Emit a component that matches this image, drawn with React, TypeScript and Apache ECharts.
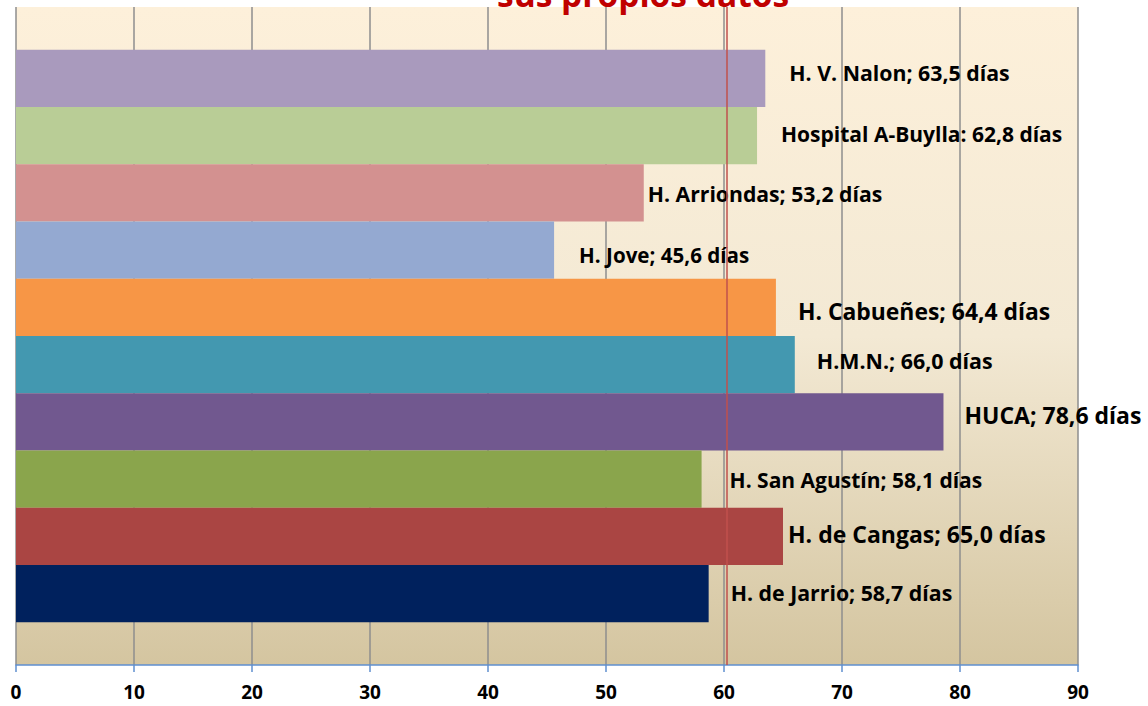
import React, { useEffect, useRef } from "react";
import * as echarts from "echarts";

// Data (top to bottom as drawn)
const hospitals = [
  "H. V. Nalon",
  "Hospital A-Buylla",
  "H. Arriondas",
  "H. Jove",
  "H. Cabueñes",
  "H.M.N.",
  "HUCA",
  "H. San Agustín",
  "H. de Cangas",
  "H. de Jarrio",
];
const days = [63.5, 62.8, 53.2, 45.6, 64.4, 66.0, 78.6, 58.1, 65.0, 58.7];
const separators = [";", ":", ";", ";", ";", ";", ";", ";", ";", ";"];
const referenceLine = 60.2;
const xTicks = [0, 10, 20, 30, 40, 50, 60, 70, 80, 90];
const titleText = "sus propios datos";

// Styles
const barColors = [
  "#a99abd",
  "#b9cd96",
  "#d39190",
  "#94a9d1",
  "#f79646",
  "#4398b0",
  "#71588f",
  "#8aa54c",
  "#aa4543",
  "#00215d",
];
const labelFontSizes = [21.3, 21, 21.2, 20.6, 22.9, 21.4, 23, 21, 23, 21.3];
const labelDistances = [24, 24, 4, 25, 22, 22, 21, 28, 5, 22];
const labelDy = [-6, -2, 1, 5, 4, -4, -7, 1, -2, -1];

const FONT = "'Open Sans', Lato, sans-serif";

export default function App() {
  const ref = useRef<HTMLDivElement>(null);
  useEffect(() => {
    if (!ref.current) return;
    const chart = echarts.init(ref.current, undefined, { renderer: "svg" });
    const series: any[] = hospitals.map((name, i) => ({
      type: "bar",
      name,
      data: [days[i]],
      barGap: "0%",
      barCategoryGap: "13%",
      itemStyle: { color: barColors[i] },
      label: {
        show: true,
        position: "right",
        distance: labelDistances[i],
        offset: [0, labelDy[i]],
        formatter: () =>
          `${name}${separators[i]} ${days[i].toFixed(1).replace(".", ",")} días`,
        color: "#000",
        fontWeight: "bold",
        fontFamily: FONT,
        fontSize: labelFontSizes[i],
      },
      silent: true,
    }));
    series[0].markLine = {
      silent: true,
      symbol: "none",
      label: { show: false },
      lineStyle: { color: "#c0504d", width: 1.5, type: "solid" },
      data: [{ xAxis: referenceLine }],
    };
    chart.setOption({
      animation: false,
      backgroundColor: "#ffffff",
      grid: {
        left: 16,
        right: 70,
        top: 7,
        bottom: 41,
        show: true,
        borderWidth: 0,
        backgroundColor: new echarts.graphic.LinearGradient(0, 0, 0, 1, [
          { offset: 0, color: "#fdf0da" },
          { offset: 0.5, color: "#f3e9d4" },
          { offset: 1, color: "#d4c5a0" },
        ]),
      },
      xAxis: {
        type: "value",
        min: xTicks[0],
        max: xTicks[xTicks.length - 1],
        interval: xTicks[1] - xTicks[0],
        axisLine: { show: true, lineStyle: { color: "#5f8fcf", width: 1.5 } },
        axisTick: { show: true, length: 7, lineStyle: { color: "#5f8fcf", width: 1.5 } },
        splitLine: { show: true, lineStyle: { color: "#8e8e8e", width: 1.5 } },
        axisLabel: {
          color: "#000",
          fontWeight: "bold",
          fontFamily: FONT,
          fontSize: 19,
          margin: 17,
        },
      },
      yAxis: {
        type: "category",
        data: [""],
        axisLine: { show: false },
        axisTick: { show: false },
        axisLabel: { show: false },
        splitLine: { show: false },
      },
      graphic: [
        {
          type: "text",
          left: 497,
          top: -23,
          style: {
            text: titleText,
            fill: "#c00000",
            font: `bold 33.5px ${FONT}`,
          },
          z: 100,
        },
      ],
      series,
    });
    return () => chart.dispose();
  }, []);
  return (
    <div
      ref={ref}
      style={{ position: "fixed", left: 0, top: 0, width: 1148, height: 706 }}
    />
  );
}
